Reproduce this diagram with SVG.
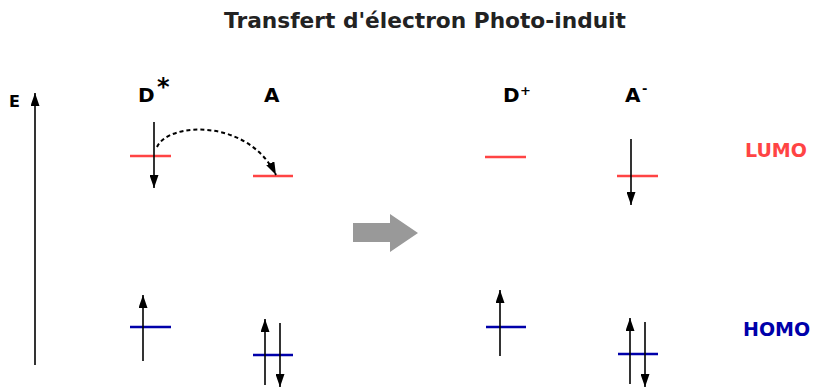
<svg xmlns="http://www.w3.org/2000/svg" width="813" height="387" viewBox="0 0 813 387">
<style>
text{font-family:"DejaVu Sans","Verdana",sans-serif;font-weight:bold}
.lbl{font-size:20px;fill:#000}
.sup{font-size:13px;fill:#000}
.lumo{stroke:#f44;stroke-width:2.5;fill:none}
.homo{stroke:#00a;stroke-width:2.5;fill:none}
.e{stroke:#000;stroke-width:1.6;fill:none;marker-end:url(#ah)}
</style>
<defs>
<marker id="ah" markerUnits="userSpaceOnUse" markerWidth="13" markerHeight="9" refX="13" refY="4.5" orient="auto">
<path d="M0,0 L13,4.5 L0,9 z" fill="#000"/>
</marker>
</defs>
<rect width="813" height="387" fill="#fff"/>
<text x="425" y="28" text-anchor="middle" style="font-size:21.7px;fill:#222">Transfert d'électron Photo-induit</text>

<g id="axis">
<line x1="35" y1="365" x2="35" y2="93" class="e"/>
<text x="9" y="107" style="font-size:16px">E</text>
</g>

<g id="D-star">
<text x="138" y="102" class="lbl">D</text>
<text x="157" y="95" style="font-size:24px">*</text>
<line x1="130" y1="156" x2="171" y2="156" class="lumo"/>
<line x1="154" y1="122" x2="154" y2="188" class="e"/>
<line x1="130" y1="327" x2="171" y2="327" class="homo"/>
<line x1="143" y1="361" x2="143" y2="295" class="e"/>
</g>

<g id="A">
<text x="264" y="102" class="lbl">A</text>
<line x1="253" y1="176" x2="293" y2="176" class="lumo"/>
<line x1="253" y1="355" x2="293" y2="355" class="homo"/>
<line x1="265" y1="385" x2="265" y2="319" class="e"/>
<line x1="280" y1="323" x2="280" y2="387" class="e"/>
</g>

<g id="D-plus">
<text x="503" y="102" class="lbl">D</text>
<text x="520" y="95" class="sup">+</text>
<line x1="485" y1="157" x2="526" y2="157" class="lumo"/>
<line x1="486" y1="327" x2="526" y2="327" class="homo"/>
<line x1="500" y1="356" x2="500" y2="290" class="e"/>
</g>

<g id="A-minus">
<text x="625" y="102" class="lbl">A</text>
<text x="642" y="93" class="sup">-</text>
<line x1="617" y1="176" x2="658" y2="176" class="lumo"/>
<line x1="631" y1="139" x2="631" y2="205" class="e"/>
<line x1="618" y1="354" x2="658" y2="354" class="homo"/>
<line x1="630" y1="384" x2="630" y2="318" class="e"/>
<line x1="645" y1="322" x2="645" y2="387" class="e"/>
</g>

<g id="labels">
<text x="745" y="157" style="font-size:19px;fill:#f44">LUMO</text>
<text x="743" y="336" style="font-size:19px;fill:#00a">HOMO</text>
</g>

<g id="connectors">
<path d="M157,147 C168,122 248,118 276,175" stroke="#000" stroke-width="2" stroke-dasharray="4,3" fill="none" marker-end="url(#ah)"/>
<polygon points="353,223 390,223 390,214 418,233 390,252 390,242 353,242" fill="#999"/>
</g>
</svg>
